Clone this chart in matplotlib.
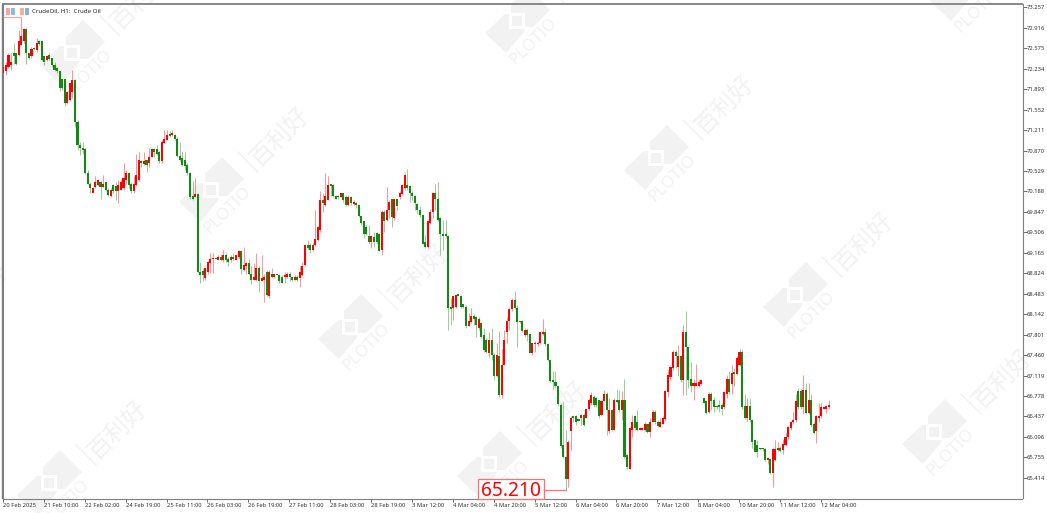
import numpy as np
import matplotlib
matplotlib.use("Agg")
import matplotlib.pyplot as plt
from matplotlib.patches import Polygon, Rectangle

opens = [72.16,72.19,72.27,72.30,72.49,72.49,72.46,72.63,72.69,72.89,72.49,72.44,72.57,72.55,72.69,72.70,72.44,72.38,72.46,72.41,72.30,72.24,72.19,72.06,72.06,71.66,71.71,71.85,72.05,
71.35,70.96,70.91,70.89,70.49,70.32,70.17,70.27,70.30,70.35,70.27,70.34,70.22,70.11,70.30,70.28,70.19,70.22,70.24,70.38,70.49,70.32,70.19,70.30,70.38,70.69,70.65,70.71,70.66,70.77,70.89,70.89,70.85,70.69,71.00,71.05,71.15,71.13,71.13,71.07,70.78,70.74,70.71,70.63,70.49,70.11,70.10,
70.14,68.85,68.87,68.74,68.85,68.99,69.06,69.07,69.05,69.10,69.04,69.13,69.07,69.04,69.10,69.05,69.09,69.19,68.88,68.94,68.99,68.82,68.72,68.72,68.92,68.70,68.71,68.85,68.45,68.82,68.76,68.80,68.80,68.77,68.76,68.77,68.81,68.76,68.72,68.77,68.74,68.80,68.96,69.30,69.30,69.21,69.30,69.38,69.55,70.05,69.96,70.05,70.30,70.30,70.11,70.11,70.10,70.16,70.10,69.96,70.10,69.98,70.00,69.96,69.78,69.70,69.60,69.44,69.34,69.43,69.49,69.48,69.21,69.85,69.71,69.88,70.06,69.74,70.06,70.09,70.14,70.24,70.30,
70.28,70.17,70.11,69.98,69.88,69.80,69.35,69.26,69.66,69.84,70.16,70.07,69.74,69.48,69.46,69.45,
68.25,68.24,68.27,68.46,68.45,68.31,68.27,67.95,68.01,68.12,68.10,67.91,67.99,67.79,67.71,67.49,67.71,67.46,67.12,67.45,66.80,67.30,67.85,68.03,68.23,68.38,68.25,68.02,68.03,67.80,67.88,67.81,67.49,67.64,67.64,67.66,67.81,67.85,67.64,67.38,67.03,67.02,66.94,
66.63,65.96,65.77,65.39,66.19,66.44,66.45,66.38,66.41,66.46,66.42,66.56,66.66,66.77,66.74,66.71,66.46,66.70,66.81,66.19,66.55,66.22,66.72,66.71,66.55,66.71,65.80,65.57,66.22,66.45,66.35,66.22,66.22,66.21,66.31,66.18,
66.35,66.52,66.35,66.27,66.32,66.39,66.84,67.10,67.24,67.52,67.27,67.44,67.05,67.85,67.59,67.06,66.95,66.95,66.94,66.98,66.74,66.69,66.52,66.81,66.71,66.61,66.63,66.63,66.59,66.82,67.06,66.98,67.17,67.15,67.30,67.52,66.61,66.42,66.61,66.38,66.04,65.96,65.90,65.90,65.90,65.71,65.73,65.50,65.72,65.88,65.92,65.88,65.96,66.09,66.24,66.34,66.38,66.87,66.87,66.59,66.88,66.49,66.71,66.31,66.19,66.42,66.44,66.57,66.57,66.59]

closes = [72.27,72.30,72.46,72.35,72.45,72.32,72.69,72.78,72.89,72.49,72.41,72.57,72.56,72.66,72.65,72.38,72.35,72.45,72.39,72.30,72.22,72.19,71.91,71.91,71.66,71.85,71.99,72.05,71.35,
70.96,70.91,70.88,70.49,70.32,70.24,70.24,70.35,70.38,70.27,70.32,70.22,70.13,70.22,70.19,70.19,70.30,70.35,70.41,70.49,70.30,70.19,70.32,70.46,70.71,70.66,70.70,70.63,70.77,70.89,70.85,70.82,70.69,71.02,71.06,71.13,71.11,71.16,71.07,70.78,70.71,70.63,70.61,70.49,70.09,70.07,70.15,
68.85,68.80,68.80,68.91,69.02,69.07,69.07,69.06,69.10,69.05,69.13,69.05,69.02,69.10,69.06,69.13,69.19,68.89,68.96,68.99,68.82,68.71,68.76,68.92,68.70,68.74,68.77,68.46,68.85,68.76,68.81,68.79,68.69,68.67,68.80,68.81,68.76,68.72,68.76,68.72,68.85,68.94,69.30,69.24,69.21,69.30,69.39,69.60,70.05,69.99,70.11,70.30,70.28,70.11,70.07,70.09,70.16,70.04,69.96,70.10,69.99,70.02,69.96,69.78,69.66,69.48,69.48,69.34,69.44,69.34,69.34,69.20,69.85,69.70,69.88,70.02,69.76,70.06,69.95,70.17,70.30,70.46,70.24,
70.17,70.11,69.99,69.88,69.80,69.32,69.26,69.69,69.85,70.16,70.07,69.72,69.48,69.45,69.45,68.25,
68.23,68.44,68.46,68.45,68.27,68.27,67.95,68.03,68.12,68.07,67.96,68.07,67.77,67.55,67.52,67.71,67.46,67.12,67.46,66.80,67.29,67.71,68.03,68.23,68.38,68.25,68.01,68.01,67.86,67.88,67.80,67.50,67.66,67.67,67.67,67.84,67.85,67.64,67.38,67.03,67.02,66.94,66.64,
65.95,65.76,65.39,66.02,66.41,66.42,66.34,66.37,66.46,66.30,66.56,66.72,66.80,66.63,66.63,66.45,66.70,66.81,66.55,66.55,66.21,66.72,66.68,66.55,66.71,65.77,65.60,66.24,66.35,66.24,66.22,66.23,66.24,66.31,66.18,66.35,
66.52,66.34,66.28,66.35,66.41,66.87,67.13,67.27,67.52,67.44,67.44,67.05,67.85,67.59,67.05,66.95,66.99,66.99,67.02,67.04,66.67,66.50,66.81,66.69,66.60,66.59,66.59,66.57,66.85,67.06,66.84,67.16,67.15,67.41,67.52,66.60,66.42,66.61,66.38,66.02,65.85,65.84,65.89,65.89,65.71,65.74,65.49,65.89,65.89,65.92,65.87,65.98,66.09,66.27,66.35,66.38,66.70,66.60,66.59,66.88,66.50,66.71,66.30,66.17,66.44,66.44,66.59,66.57,66.61,66.63]

highs = [72.32,72.35,72.49,72.49,72.66,72.50,72.88,73.10,72.91,72.91,72.50,72.59,72.59,72.74,72.72,72.72,72.45,72.46,72.49,72.42,72.35,72.27,72.20,72.07,72.07,71.87,72.00,72.21,72.06,
71.38,71.02,71.02,70.91,70.55,70.34,70.26,70.44,70.39,70.36,70.46,70.35,70.24,70.24,70.32,70.35,70.38,70.39,70.66,70.55,70.52,70.35,70.44,70.82,70.84,70.71,70.84,70.72,70.91,70.91,70.91,70.96,70.87,71.05,71.22,71.21,71.19,71.21,71.15,71.10,71.02,70.87,70.85,70.66,70.52,70.37,70.42,
70.16,69.02,68.91,68.92,69.03,69.16,69.16,69.07,69.13,69.15,69.22,69.16,69.10,69.13,69.16,69.15,69.22,69.22,69.26,69.02,69.07,68.94,68.99,69.16,68.95,69.13,68.82,68.88,68.88,68.91,68.82,68.80,68.82,68.80,68.85,68.85,68.85,68.77,68.80,68.80,68.94,69.02,69.31,69.38,69.33,69.33,69.88,69.61,70.19,70.16,70.50,70.45,70.31,70.31,70.13,70.13,70.17,70.17,70.13,70.13,70.11,70.05,70.02,69.98,69.80,69.71,69.63,69.63,69.46,69.52,69.52,69.50,69.88,69.88,70.27,70.05,70.07,70.07,70.07,70.19,70.31,70.50,70.57,
70.30,70.19,70.13,69.99,69.94,69.82,69.46,69.71,69.89,70.17,70.31,70.34,69.76,69.71,69.71,69.46,
68.41,68.45,68.47,68.47,68.46,68.32,68.29,68.16,68.25,68.14,68.12,68.09,68.01,67.92,67.74,67.85,67.92,67.49,67.66,67.86,67.57,67.88,68.10,68.25,68.41,68.53,68.29,68.03,68.05,67.91,67.91,67.82,67.67,67.69,67.69,67.85,68.07,67.91,67.66,67.40,67.20,67.20,66.95,
66.66,66.69,66.21,66.05,66.44,66.46,66.46,66.39,66.48,66.49,66.57,66.74,66.84,66.80,66.77,66.72,66.72,66.88,66.84,66.74,66.57,66.74,66.89,66.88,66.87,67.06,65.82,66.27,66.46,66.46,66.55,66.26,66.26,66.34,66.32,66.41,
66.54,66.54,66.38,66.41,66.44,66.88,67.21,67.28,67.55,67.55,67.63,67.46,67.96,68.19,67.60,67.35,67.07,67.32,67.07,67.06,66.76,66.70,66.84,66.84,66.77,66.63,66.71,66.66,66.87,67.13,67.19,67.30,67.24,67.44,67.57,67.54,66.82,66.74,66.74,66.39,66.07,66.05,65.91,65.91,65.91,65.76,65.74,65.91,66.05,66.02,65.95,66.06,66.17,66.28,66.37,66.52,66.82,66.92,66.89,67.13,66.99,66.99,66.81,66.35,66.46,66.66,66.66,66.59,66.63,66.72]

lows = [72.15,72.13,72.24,72.21,72.32,72.30,72.45,72.63,72.67,72.32,72.39,72.42,72.55,72.52,72.63,72.37,72.30,72.36,72.38,72.27,72.20,72.16,71.87,71.88,71.61,71.65,71.69,71.74,71.27,
70.88,70.80,70.82,70.48,70.31,70.17,70.16,70.25,70.28,70.07,70.26,70.20,70.11,70.10,70.17,70.05,69.99,70.21,70.22,70.32,70.24,70.17,70.17,70.28,70.37,70.59,70.63,70.52,70.59,70.76,70.76,70.80,70.67,70.67,70.99,71.04,71.10,71.11,71.05,70.77,70.70,70.61,70.55,70.46,70.07,70.05,70.09,
68.83,68.66,68.69,68.72,68.82,68.83,68.83,69.06,69.04,69.03,69.02,69.01,68.95,69.02,69.05,69.04,69.07,68.82,68.87,68.82,68.80,68.65,68.71,68.70,68.52,68.69,68.35,68.44,68.42,68.74,68.74,68.79,68.67,68.66,68.67,68.74,68.69,68.70,68.71,68.70,68.59,68.78,68.95,69.21,69.17,69.19,69.28,69.37,69.52,69.85,69.95,70.04,70.11,70.10,70.06,70.07,70.09,70.02,69.95,69.95,69.96,69.96,69.91,69.76,69.63,69.42,69.46,69.32,69.24,69.27,69.31,69.19,69.13,69.52,69.70,69.74,69.60,69.72,69.88,70.07,70.13,70.22,70.22,
70.02,70.04,69.88,69.82,69.76,69.31,69.24,69.24,69.65,69.74,69.88,69.70,69.13,69.21,69.41,67.88,
67.96,68.05,68.25,68.44,68.25,68.24,67.92,67.94,67.99,67.97,67.77,67.88,67.74,67.52,67.49,67.43,67.38,67.05,67.10,66.77,66.74,67.29,67.66,67.88,68.20,68.23,67.60,67.99,67.84,67.77,67.70,67.49,67.47,67.52,67.62,67.64,67.80,67.62,67.36,67.01,66.88,66.92,66.62,
65.92,65.74,65.21,65.26,65.88,66.34,66.30,66.36,66.30,66.28,66.41,66.55,66.63,66.60,66.60,66.42,66.44,66.69,66.13,66.17,66.19,66.21,66.66,66.52,66.38,65.74,65.57,65.56,66.10,66.21,66.20,66.21,66.21,66.20,66.16,66.10,
66.34,66.31,66.26,66.26,66.31,66.37,66.77,67.05,67.22,67.24,67.11,67.02,66.80,66.80,66.92,66.85,66.71,66.94,66.93,66.96,66.66,66.48,66.50,66.55,66.52,66.57,66.52,66.46,66.57,66.74,66.81,66.82,66.94,67.13,67.28,66.57,66.39,66.34,66.35,65.91,65.84,65.77,65.88,65.87,65.70,65.65,65.48,65.27,65.70,65.87,65.84,65.81,65.95,66.07,66.22,66.32,66.35,66.57,66.57,66.48,66.48,66.48,66.27,66.15,65.99,66.35,66.42,66.56,66.49,66.57]

y_tick_labels = ["73.257","72.916","72.575","72.234","71.893","71.552","71.211","70.870","70.529","70.188","69.847","69.506",
                 "69.165","68.824","68.483","68.142","67.801","67.460","67.119","66.778","66.437","66.096","65.755","65.414"]
x_tick_labels = ["20 Feb 2025","21 Feb 10:00","22 Feb 02:00","24 Feb 19:00","25 Feb 11:00","26 Feb 03:00","26 Feb 19:00",
                 "27 Feb 11:00","28 Feb 03:00","28 Feb 19:00","3 Mar 12:00","4 Mar 04:00","4 Mar 20:00","5 Mar 12:00",
                 "6 Mar 04:00","6 Mar 20:00","7 Mar 12:00","8 Mar 04:00","10 Mar 20:00","11 Mar 12:00","12 Mar 04:00"]
x_tick_step = 16
low_label = "65.210"
low_value = 65.21
high_value = 73.10
title = "CrudeOil, H1:  Crude Oil"
logo_centres = [(72,53),(211,190),(350,327),(489,464),(517,21),(656,158),(795,295),(934,432),(962,-11),(-90,346),(49,483)]

W, H = 1047, 513
GREEN, RED = "#128a12", "#ff0000"
MARK = "#f2f2f2"
FONT = ["Noto Sans", "DejaVu Sans"]
fig = plt.figure(figsize=(W/100, H/100), dpi=100, facecolor="white")

# pixel-space overlay for the window furniture and watermark
bg = fig.add_axes([0, 0, 1, 1], zorder=0)
bg.set_xlim(0, W); bg.set_ylim(H, 0); bg.axis("off")

def logo(cx, cy):
    left_piece = [(-32,12),(-12,-7),(-8,-7),(-8,8),(8,8),(6,12),(-11,32)]
    upper_piece = [(-6,-16),(11,-33),(33,-11),(16,6),(8,6),(8,-8),(-6,-8)]
    for piece in (left_piece, upper_piece):
        bg.add_patch(Polygon([(cx+a, cy+b) for a, b in piece], fc=MARK, ec="none"))
    bg.add_patch(Rectangle((cx-5,cy-5), 10, 10, fc=MARK, ec="none"))
    if cx + 17 > -25:
        bg.text(cx+17, cy+20, "PLOTIO", rotation=45, ha="center", va="center", color=MARK, fontsize=12,
                fontweight="bold", family=FONT, rotation_mode="anchor")
    bg.plot([cx+27, cx+47], [cy-38, cy-18], color=MARK, lw=1)
    if cy - 53 > -25:
        bg.text(cx+69, cy-53, "百利好", rotation=45, ha="center", va="center", color=MARK, fontsize=17.5,
                family=["Noto Sans CJK SC"], rotation_mode="anchor")

for c in logo_centres:
    logo(*c)

# chart axes
BAR_PX = 2.556
left, right, top, bottom = 3.0, 1022.5, 4.0, 498.5
ax = fig.add_axes([left/W, 1-bottom/H, (right-left)/W, (bottom-top)/H], zorder=1)
ax.patch.set_alpha(0)
PX_PER_UNIT = 60.0
y_ticks = [float(s) for s in y_tick_labels]
ax.set_ylim(y_ticks[0] - (498.5-7.3)/PX_PER_UNIT, y_ticks[0] + (7.3-4.0)/PX_PER_UNIT)
ax.set_xlim(0, (right-left)/BAR_PX)

o, c, h, l = map(np.array, (opens, closes, highs, lows))
x = np.arange(len(o)) + 0.15
up = c >= o
for mask, col in ((up, RED), (~up, GREEN)):
    ax.vlines(x[mask], l[mask], h[mask], color=col, lw=0.75, alpha=0.42, zorder=2)
    ax.bar(x[mask], np.maximum(np.abs(c-o)[mask], 0.025), bottom=np.minimum(o, c)[mask], width=0.8, color=col, lw=0, zorder=3)

ax.yaxis.tick_right()
ax.set_yticks(y_ticks, y_tick_labels)
ax.set_xticks(np.arange(len(x_tick_labels))*x_tick_step, x_tick_labels)
ax.tick_params(axis="y", length=3, width=0.6, color="#555555", pad=0.3, labelsize=4.2, labelcolor="#333333")
ax.tick_params(axis="x", length=2.5, width=0.6, color="#555555", pad=0.8, labelsize=4.2, labelcolor="#333333")
for t in ax.get_xticklabels():
    t.set_ha("left"); t.set_family(FONT)
for t in ax.get_yticklabels():
    t.set_family(FONT)
for s in ("left", "top", "right", "bottom"):
    ax.spines[s].set_color("#7f7f7f"); ax.spines[s].set_linewidth(0.8)
ax.spines["top"].set_linewidth(1.3)

# extreme-price annotations
i_low = int(np.argmin(l)); i_high = int(np.argmax(h))
ax.hlines(high_value, 0, x[i_high], color="#ffa0a0", lw=0.8, zorder=4)
y_low_px = 7.3 + (y_ticks[0]-low_value)*PX_PER_UNIT
bg2 = fig.add_axes([0, 0, 1, 1], zorder=2); bg2.set_xlim(0, W); bg2.set_ylim(H, 0); bg2.axis("off")
bg2.add_patch(Rectangle((477.5,478.5), 66, 20.5, fc="white", ec="#ff7070", lw=0.9))
bg2.plot([543.5, left+BAR_PX*x[i_low]], [y_low_px, y_low_px], color="#ff7070", lw=0.9)
bg2.text(511, 490.5, low_label, color="#ff0000", fontsize=13.8, ha="center", va="center", family=FONT)
bg2.text(32, 11.6, title, fontsize=4.4, color="#222222", ha="left", va="center", family=FONT)
for (x0, y0, col) in ((6,8,"#f4a6a0"),(11,8,"#8db8e0"),(19.5,8,"#f4b090"),(24.5,8,"#80b4e8")):
    bg2.add_patch(Rectangle((x0,y0), 4.2, 7, fc=col, ec="none"))
bg2.plot([2.3,2.3],[4,498], color="#7f7f7f", lw=1.0)

fig.savefig("out.png", dpi=100)
